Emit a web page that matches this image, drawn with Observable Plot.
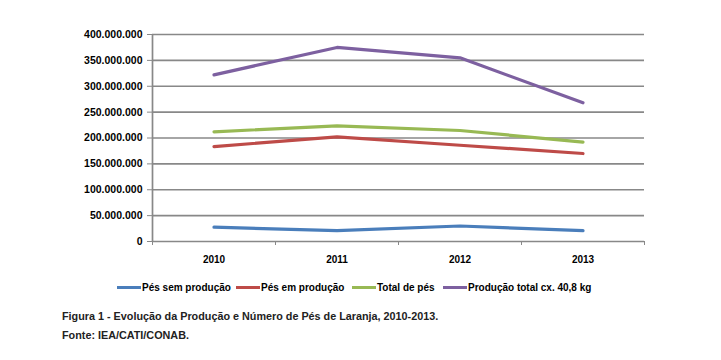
<!DOCTYPE html>
<html><head><meta charset="utf-8">
<script src="https://cdn.jsdelivr.net/npm/d3@7"></script>
<script src="https://cdn.jsdelivr.net/npm/@observablehq/plot@0.6"></script>
<style>
body{margin:0;background:#fff;font-family:"Liberation Sans",Arial,sans-serif;}
#wrap{position:relative;width:721px;height:360px;}
#legend{position:absolute;top:282px;left:0;width:721px;font-size:10px;font-weight:bold;color:#000;}
#legend span.item{position:absolute;top:0;white-space:nowrap;}
#legend span.sw{display:inline-block;width:24px;height:3px;vertical-align:middle;margin-right:1px;position:relative;top:-1px;}
.cap{position:absolute;left:62px;font-size:10.8px;font-weight:bold;color:#222;white-space:nowrap;}
</style></head>
<body><div id="wrap"><div id="chart"></div><div id="legend"></div>
<div class="cap" style="top:310px">Figura 1 - Evolução da Produção e Número de Pés de Laranja, 2010-2013.</div>
<div class="cap" style="top:329px">Fonte: IEA/CATI/CONAB.</div>
</div>
<script>
const years = [2010, 2011, 2012, 2013];
const seriesNames = ["Pés sem produção", "Pés em produção", "Total de pés", "Produção total cx. 40,8 kg"];
const semProducao = [27.7e6, 21e6, 30e6, 21e6];
const emProducao = [183.5e6, 202e6, 186e6, 170e6];
const totalPes = [212e6, 223.5e6, 214.5e6, 192e6];
const producaoTotal = [322e6, 375e6, 355e6, 268e6];
const yTicks = [0, 50e6, 100e6, 150e6, 200e6, 250e6, 300e6, 350e6, 400e6];
const colors = ["#4a7ebb", "#be4b48", "#98b954", "#7d60a0"];

const allSeries = [semProducao, emProducao, totalPes, producaoTotal];
const data = [];
allSeries.forEach((vals, i) => vals.forEach((v, j) => data.push({year: years[j], value: v, series: seriesNames[i]})));

const loc = d3.formatLocale({decimal: ",", thousands: ".", grouping: [3], currency: ["", ""]});
const fmt = loc.format(",");
const bounds = [years[0] - 0.5, ...years.map(y => y + 0.5)];

const chart = Plot.plot({
  width: 721, height: 272,
  marginLeft: 152, marginRight: 77, marginTop: 34, marginBottom: 31,
  style: {fontFamily: "Liberation Sans, Arial, sans-serif", fontSize: "10px", fontWeight: "bold", color: "#000", background: "#fff"},
  x: {domain: [bounds[0], bounds[bounds.length - 1]]},
  y: {domain: [0, 400e6]},
  color: {domain: seriesNames, range: colors},
  marks: [
    Plot.ruleY(yTicks, {stroke: "#888", strokeWidth: 1.7}),
    Plot.ruleX([bounds[0]], {stroke: "#888", strokeWidth: 1.7}),
    Plot.axisY({ticks: yTicks, tickFormat: fmt, tickSize: 5, tickPadding: 5, stroke: "#888", fontSize: 10.5, label: null}),
    Plot.axisX({ticks: bounds, tickFormat: () => "", tickSize: 4, stroke: "#888", label: null}),
    Plot.axisX({ticks: years, tickFormat: d => String(d), tickSize: 0, tickPadding: 14, label: null}),
    Plot.line(data, {x: "year", y: "value", z: "series", stroke: "series", strokeWidth: 3.2})
  ]
});
document.getElementById("chart").appendChild(chart);

const legendX = [117, 236, 352, 443];
const leg = document.getElementById("legend");
seriesNames.forEach((n, i) => {
  const s = document.createElement("span");
  s.className = "item";
  s.style.left = legendX[i] + "px";
  s.innerHTML = `<span class="sw" style="background:${colors[i]}"></span>${n}`;
  leg.appendChild(s);
});
</script></body></html>
